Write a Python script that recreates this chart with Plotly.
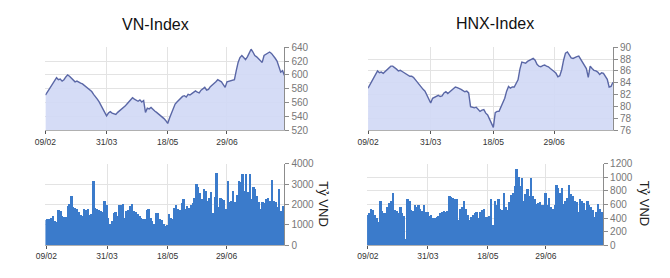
import plotly.graph_objects as go

# ---------------- data ----------------
tick_index = [0, 33, 66, 98]
tick_labels = ["09/02", "31/03", "18/05", "29/06"]

vn_index = [571, 575, 579, 583, 588, 592, 596, 593, 594, 591,
            593, 597, 600, 598, 595, 592, 590, 591, 589, 588,
            587, 585, 582, 580, 578, 576, 572, 569, 565, 561,
            556, 551, 546, 541, 545, 547, 545, 544, 543, 546,
            548, 550, 553, 555, 558, 561, 565, 567, 565, 563,
            562, 564, 561, 563, 546, 552, 551, 553, 550, 548,
            546, 544, 541, 539, 537, 534, 530, 538, 545, 552,
            558, 561, 564, 567, 569, 570, 568, 572, 571, 573,
            575, 577, 575, 574, 578, 580, 582, 578, 579, 583,
            585, 588, 590, 593, 591, 590, 586, 582, 590, 591,
            592, 592, 593, 606, 618, 625, 628, 625, 622, 626,
            632, 637, 633, 628, 626, 623, 620, 618, 628, 630,
            631, 633, 631, 628, 624, 620, 612, 604, 606, 599]

hnx_index = [83.1, 83.7, 84.2, 84.8, 85.4, 86.0, 85.7, 85.8, 85.6, 85.9,
             86.2, 86.5, 86.8, 86.8, 86.6, 86.3, 86.0, 86.1, 85.9, 85.7,
             85.5, 85.3, 85.1, 85.1, 84.9, 84.5, 84.1, 83.5, 83.1, 82.9,
             82.6, 81.9, 81.3, 80.6, 81.4, 81.6, 81.8, 81.9, 81.7, 81.8,
             82.3, 82.5, 82.2, 82.5, 82.7, 83.0, 83.3, 83.2, 83.1, 82.9,
             82.7, 82.5, 82.6, 82.3, 80.0, 79.9, 79.8, 79.9, 79.5, 79.2,
             79.4, 79.5, 78.9, 78.6, 77.9, 77.2, 76.5, 79.0, 79.2, 79.2,
             79.9, 80.6, 81.4, 82.6, 83.4, 83.1, 83.3, 83.3, 84.0, 84.5,
             86.3, 87.5, 87.4, 87.3, 87.6, 87.8, 87.9, 88.1, 87.8, 87.1,
             86.8, 86.7, 86.9, 87.0, 86.8, 86.7, 86.4, 86.2, 85.9, 85.6,
             85.0, 85.2, 86.2, 87.8, 89.0, 89.2, 88.8, 88.2, 88.1, 88.3,
             88.4, 88.5, 88.0, 87.5, 87.0, 86.4, 84.9, 86.8, 86.4, 86.1,
             86.0, 85.8, 85.4, 85.7, 85.6, 85.0, 84.6, 83.3, 83.4, 84.1]

vn_volume = [1250, 1300, 1300, 1350, 1430, 1200, 1150, 1750, 1700, 1430,
             1380, 1400, 1950, 2050, 2450, 1900, 1850, 1800, 1650, 1500,
             1450, 1800, 1750, 1800, 1500, 1550, 3150, 1850, 1800, 1750,
             1700, 1650, 2200, 2000, 1350, 1050, 1200, 1600, 1650, 1450,
             2000, 2000, 2050, 1350, 1700, 1750, 1950, 2050, 1700, 1650,
             1550, 1450, 1350, 1300, 1300, 1750, 1800, 1350, 1200, 1050,
             1600, 1600, 1300, 1250, 1050, 950, 1000, 1550, 1350, 1300,
             1850, 2000, 1800, 1750, 2100, 2300, 1800, 1950, 1850, 2000,
             2100, 2350, 3000, 2850, 2550, 2300, 2750, 2650, 2200, 2350,
             2600, 1600, 2400, 3550, 1900, 2350, 2300, 2250, 1800, 3150,
             2150, 2200, 2650, 2150, 2500, 3150, 3100, 3500, 2650, 3500,
             2600, 3500, 2300, 2850, 2750, 2450, 2150, 1800, 2150, 2100,
             2300, 2350, 2200, 3200, 2200, 2150, 1900, 2750, 1700, 1950]

hnx_volume = [450, 470, 530, 520, 450, 400, 340, 660, 500, 480,
              470, 565, 620, 660, 775, 520, 500, 470, 565, 470,
              440, 95, 680, 660, 520, 500, 590, 560, 590, 540,
              510, 590, 490, 490, 440, 450, 400, 400, 420, 440,
              470, 490, 500, 490, 500, 730, 720, 705, 680, 680,
              375, 540, 565, 660, 540, 450, 375, 420, 450, 480,
              490, 400, 490, 520, 540, 420, 420, 430, 680, 305,
              660, 590, 680, 540, 520, 775, 560, 520, 635, 750,
              775, 870, 1130, 1010, 870, 990, 660, 760, 825, 730,
              990, 730, 680, 610, 620, 635, 600, 590, 775, 590,
              705, 560, 540, 590, 895, 840, 775, 845, 610, 660,
              700, 895, 760, 730, 660, 635, 490, 680, 660, 620,
              520, 660, 600, 565, 520, 420, 490, 610, 540, 490]

titles = ["VN-Index", "HNX-Index"]
unit_label = "Tỷ VND"

# ---------------- figure ----------------
W, H = 670, 278
idx = list(range(len(vn_index)))

LINE_COLOR = "#5a67a6"
FILL_COLOR = "rgba(208,216,245,0.9)"
BAR_COLOR = "#3b7bcb"
GRID = "#e3e3e3"
AXIS = "#8c8c8c"
FONT = "Liberation Sans, Arial, sans-serif"


def dom_x(a, b):
    return [a / W, b / W]


def dom_y(top, bottom):
    return [1 - bottom / H, 1 - top / H]


fig = go.Figure()

fig.add_trace(go.Scatter(x=idx, y=vn_index, mode="lines", fill="tozeroy",
                         fillcolor=FILL_COLOR, line=dict(color=LINE_COLOR, width=1.4),
                         xaxis="x", yaxis="y", showlegend=False))
fig.add_trace(go.Scatter(x=idx, y=hnx_index, mode="lines", fill="tozeroy",
                         fillcolor=FILL_COLOR, line=dict(color=LINE_COLOR, width=1.4),
                         xaxis="x2", yaxis="y2", showlegend=False))
fig.add_trace(go.Bar(x=idx, y=vn_volume, marker=dict(color=BAR_COLOR, line=dict(width=0)),
                     xaxis="x3", yaxis="y3", showlegend=False))
fig.add_trace(go.Bar(x=idx, y=hnx_volume, marker=dict(color=BAR_COLOR, line=dict(width=0)),
                     xaxis="x4", yaxis="y4", showlegend=False))


def xaxis(domain, anchor, rng):
    return dict(domain=domain, anchor=anchor, range=rng,
                tickmode="array", tickvals=tick_index, ticktext=tick_labels,
                showgrid=True, gridcolor=GRID, gridwidth=1,
                showline=True, linecolor="#b0b0b0", linewidth=1,
                ticks="outside", ticklen=3, tickcolor="#555",
                tickfont=dict(size=8.5, color="#333", family=FONT),
                zeroline=False, fixedrange=True)


def yaxis(domain, anchor, rng, dtick):
    return dict(domain=domain, anchor=anchor, range=rng, dtick=dtick, side="right",
                showgrid=True, gridcolor=GRID, gridwidth=1,
                showline=True, linecolor=AXIS, linewidth=1,
                ticks="outside", ticklen=4, tickcolor=AXIS,
                tickfont=dict(size=10, color="#777", family=FONT),
                zeroline=False, fixedrange=True)


def label(text, x, y, size, angle=0, color="#111"):
    return dict(text=text, x=x / W, y=1 - y / H, xref="paper", yref="paper",
                xanchor="center", yanchor="middle", showarrow=False,
                textangle=angle, font=dict(size=size, color=color, family=FONT))


n = len(idx)
fig.update_layout(
    width=W, height=H,
    margin=dict(l=0, r=0, t=0, b=0),
    paper_bgcolor="white", plot_bgcolor="white",
    bargap=0,
    font=dict(family=FONT),
    xaxis=xaxis(dom_x(35, 278), "y", [0, n - 1]),
    yaxis=yaxis(dom_y(43, 130), "x", [520, 640], 20),
    xaxis2=xaxis(dom_x(363, 612), "y2", [0, n - 1]),
    yaxis2=yaxis(dom_y(43, 130), "x2", [76, 90], 2),
    xaxis3=xaxis(dom_x(35, 278), "y3", [-0.5, n - 0.5]),
    yaxis3=yaxis(dom_y(165, 250), "x3", [0, 4000], 1000),
    xaxis4=xaxis(dom_x(362, 602), "y4", [-0.5, n - 0.5]),
    yaxis4=yaxis(dom_y(165, 250), "x4", [0, 1200], 200),
    annotations=[
        label(titles[0], 147, 19, 16),
        label(titles[1], 492, 18, 16),
        label(unit_label, 318, 207, 13, 90, "#222"),
        label(unit_label, 645, 207, 13, 90, "#222"),
    ],
)

fig.write_html("out.html")
